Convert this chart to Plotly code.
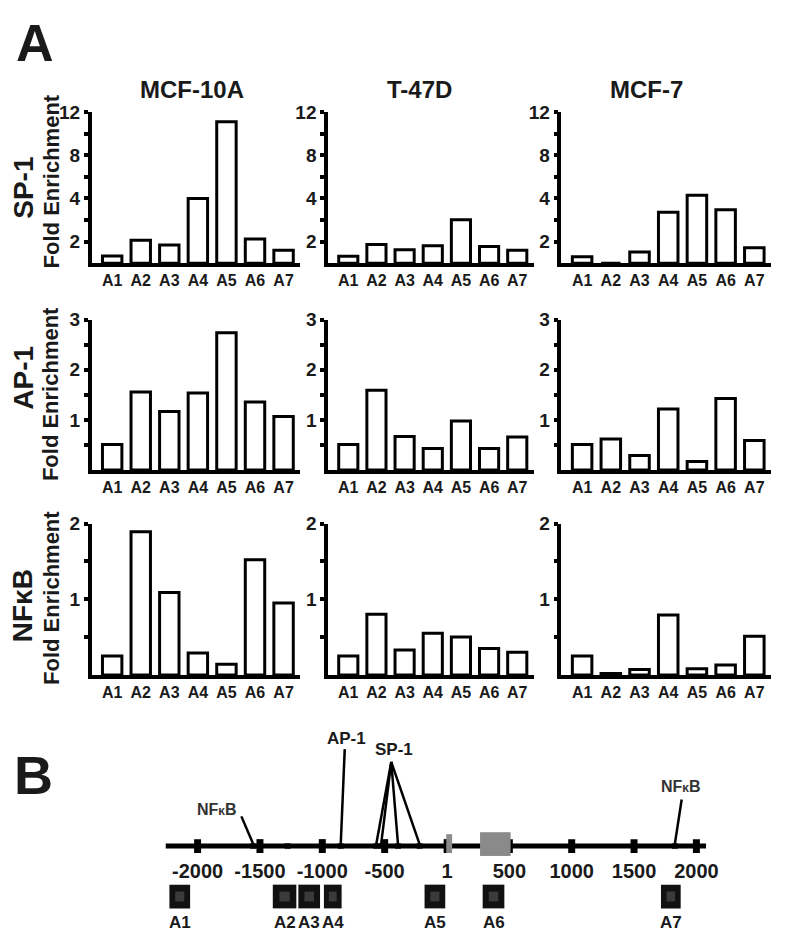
import plotly.graph_objects as go
import numpy as np

# ---------------- data ----------------
categories = ['A1', 'A2', 'A3', 'A4', 'A5', 'A6', 'A7']
cell_lines = ['MCF-10A', 'T-47D', 'MCF-7']
factors = ['SP-1', 'AP-1', 'NFκB']

sp1_mcf10a = [1.34, 2.06, 1.85, 4.0, 11.1, 2.12, 1.6]
sp1_t47d = [1.33, 1.87, 1.63, 1.81, 3.01, 1.78, 1.6]
sp1_mcf7 = [1.30, 1.0, 1.52, 3.36, 4.3, 3.48, 1.72]

ap1_mcf10a = [0.51, 1.56, 1.17, 1.54, 2.74, 1.36, 1.07]
ap1_t47d = [0.51, 1.59, 0.67, 0.43, 0.98, 0.43, 0.66]
ap1_mcf7 = [0.51, 0.62, 0.29, 1.22, 0.17, 1.43, 0.59]

nfkb_mcf10a = [0.25, 1.89, 1.09, 0.29, 0.14, 1.52, 0.95]
nfkb_t47d = [0.25, 0.80, 0.33, 0.55, 0.50, 0.35, 0.30]
nfkb_mcf7 = [0.25, 0.02, 0.07, 0.79, 0.08, 0.13, 0.51]

# segmented SP-1 axis (1-4 linear, 4-12 compressed)
sp1_breaks = [1, 4, 12]
sp1_break_pos = [0, 3, 7]
sp1_ticks = [2, 3, 4, 6, 8, 10, 12]
sp1_tick_text = ['2', '', '4', '', '8', '', '12']
ap1_ticks = [0.5, 1, 1.5, 2, 2.5, 3]
ap1_tick_text = ['', '1', '', '2', '', '3']
nfkb_ticks = [0.5, 1, 1.5, 2]
nfkb_tick_text = ['', '1', '', '2']

# promoter map (bp)
bp_ticks = [-2000, -1500, -1000, -500, 1, 500, 1000, 1500, 2000]
bp_tick_labels = ['-2000', '-1500', '-1000', '-500', '1', '500', '1000', '1500', '2000']
site_pos = [-1554, -1278, -852, -567, -528, -393, -220, 1827]
site_name = ['NFκB', '', 'AP-1', 'SP-1', 'SP-1', 'SP-1', 'SP-1', 'NFκB']
amplicon_names = ['A1', 'A2', 'A3', 'A4', 'A5', 'A6', 'A7']
amplicon_start = [-2226, -1397, -1192, -987, -180, 286, 1716]
amplicon_end = [-2060, -1208, -1018, -845, -14, 460, 1874]
gray_start = [-6, 265]
gray_end = [41, 510]

# ---------------- layout helpers ----------------
W, H = 800, 945
FONT = 'Liberation Sans, Arial, sans-serif'
TXT = '#1a1a1a'


def P(py):
    return 1 - py / H


def X(px):
    return px / W


def sp1_tf(v):
    return list(np.interp(v, sp1_breaks, sp1_break_pos))


col_px = [(93, 305), (333, 542), (570, 783)]
row_px = [(103, 256), (313, 465), (519, 672)]

rows = [
    [sp1_mcf10a, sp1_t47d, sp1_mcf7],
    [ap1_mcf10a, ap1_t47d, ap1_mcf7],
    [nfkb_mcf10a, nfkb_t47d, nfkb_mcf7],
]

fig = go.Figure()
layout = dict(width=W, height=H, margin=dict(l=0, r=0, t=0, b=0),
              paper_bgcolor='white', plot_bgcolor='white', showlegend=False,
              font=dict(family=FONT, color=TXT))

for r in range(3):
    for c in range(3):
        n = r * 3 + c + 1
        vals = rows[r][c]
        if r == 0:
            yv = sp1_tf(vals)
            tv = sp1_tf(sp1_ticks)
            tt = sp1_tick_text
            yr = [0, 7]
        elif r == 1:
            yv = vals
            tv = ap1_ticks
            tt = ap1_tick_text
            yr = [0, 3]
        else:
            yv = vals
            tv = nfkb_ticks
            tt = nfkb_tick_text
            yr = [0, 2]
        fig.add_trace(go.Bar(
            x=categories, y=yv, width=0.68,
            marker=dict(color='white', line=dict(color='black', width=3)),
            xaxis='x%d' % n, yaxis='y%d' % n, hoverinfo='skip'))
        x0, x1 = col_px[c]
        y0, y1 = row_px[r]
        layout['xaxis%d' % n] = dict(
            domain=[X(x0), X(x1)], anchor='y%d' % n, type='category',
            range=[-0.72, 6.59], showline=True, linewidth=4, linecolor='black',
            ticks='', showgrid=False, zeroline=False,
            tickfont=dict(size=16, family=FONT, color=TXT, weight='bold'))
        layout['yaxis%d' % n] = dict(
            domain=[P(y1), P(y0)], anchor='x%d' % n, range=yr,
            showline=True, linewidth=3.5, linecolor='black',
            ticks='outside', ticklen=4, tickwidth=3.5, tickcolor='black',
            tickvals=tv, ticktext=tt, showgrid=False, zeroline=False,
            tickfont=dict(size=19, family=FONT, color=TXT, weight='bold'))

# ---------------- promoter map axis ----------------
px_per_bp = 0.1266
bp0_px = 453.8
xmin_bp = (168 - bp0_px) / px_per_bp
xmax_bp = (717 - bp0_px) / px_per_bp
layout['xaxis10'] = dict(domain=[X(168), X(717)], anchor='y10', range=[xmin_bp, xmax_bp],
                         showline=False, showgrid=False, zeroline=False, ticks='',
                         tickvals=bp_ticks, ticktext=bp_tick_labels,
                         tickfont=dict(size=20, family=FONT, color=TXT, weight='bold'))
layout['yaxis10'] = dict(domain=[P(856), P(700)], anchor='x10', range=[-11, 145], visible=False)

shapes = []
shapes.append(dict(type='line', xref='x10', yref='paper', x0=xmin_bp, x1=xmax_bp,
                   y0=P(845), y1=P(845), line=dict(color='black', width=5)))
for t in bp_ticks:
    shapes.append(dict(type='rect', xref='x10', yref='paper', x0=t - 28, x1=t + 28,
                       y0=P(852), y1=P(838), fillcolor='black', line=dict(width=0)))
shapes.append(dict(type='rect', xref='x10', yref='paper', x0=gray_start[0], x1=gray_end[0],
                   y0=P(852), y1=P(833), fillcolor='#8a8a8a', line=dict(width=0)))
shapes.append(dict(type='rect', xref='x10', yref='paper', x0=gray_start[1], x1=gray_end[1],
                   y0=P(855), y1=P(831), fillcolor='#8a8a8a', line=dict(width=0)))
for a, s, e in zip(amplicon_names, amplicon_start, amplicon_end):
    shapes.append(dict(type='rect', xref='x10', yref='paper', x0=s, x1=e,
                       y0=P(908), y1=P(884), fillcolor='#111111', line=dict(width=0)))
    m = (s + e) / 2
    hw = (e - s) * 0.22
    shapes.append(dict(type='rect', xref='x10', yref='paper', x0=m - hw, x1=m + hw,
                       y0=P(901), y1=P(891), fillcolor='#3a3a3a', line=dict(width=0)))

label_anchor = {'NFκB_L': (-1649, 815), 'AP-1': (-820, 747), 'SP-1': (-447, 760), 'NFκB_R': (1882, 798)}
for pos, name in zip(site_pos, site_name):
    if name == '':
        continue
    if name == 'NFκB':
        key = 'NFκB_L' if pos < 0 else 'NFκB_R'
    else:
        key = name
    ax_bp, ay_px = label_anchor[key]
    shapes.append(dict(type='line', xref='x10', yref='paper', x0=ax_bp, x1=pos,
                       y0=P(ay_px), y1=P(843), line=dict(color='black', width=2.5)))

fig.add_trace(go.Scatter(x=site_pos, y=[0] * len(site_pos), mode='markers',
                         marker=dict(symbol='square', size=6, color='#4d4d4d'),
                         xaxis='x10', yaxis='y10', cliponaxis=False, hoverinfo='skip'))

layout['shapes'] = shapes

ann = []


def add_text(text, x, y, size, angle=0, xref='paper', yref='paper', color=TXT):
    ann.append(dict(text='<b>' + text + '</b>', x=x, y=y, xref=xref, yref=yref, showarrow=False,
                    textangle=angle, xanchor='center', yanchor='middle',
                    font=dict(size=size, family=FONT, color=color)))


add_text('A', X(36), P(33), 52)
add_text('B', X(34), P(773), 54)

for name, cx in zip(cell_lines, [195, 426, 656]):
    add_text(name, X(cx), P(80), 24)

for name, cy, fy in zip(factors, [180, 372, 602], [173, 388, 594]):
    add_text(name, X(23), P(cy), 28, angle=-90)
    add_text('Fold Enrichment', X(52), P(fy), 22, angle=-90)

add_text('AP-1', -802, P(736), 17, xref='x10')
add_text('SP-1', -428, P(747), 17, xref='x10')
add_text('NF<span style="font-size:12px">κ</span>B', (220 - bp0_px) / px_per_bp, P(808), 16, xref='x10', color='#333333')
add_text('NF<span style="font-size:12px">κ</span>B', (691 - bp0_px) / px_per_bp, P(785), 16, xref='x10', color='#333333')
for a, s, e in zip(amplicon_names, amplicon_start, amplicon_end):
    add_text(a, (s + e) / 2, P(922), 17, xref='x10')

layout['annotations'] = ann
fig.update_layout(**layout)
fig.write_html('out.html', config={'displayModeBar': False},
               post_script="document.body.style.margin='0px';")
